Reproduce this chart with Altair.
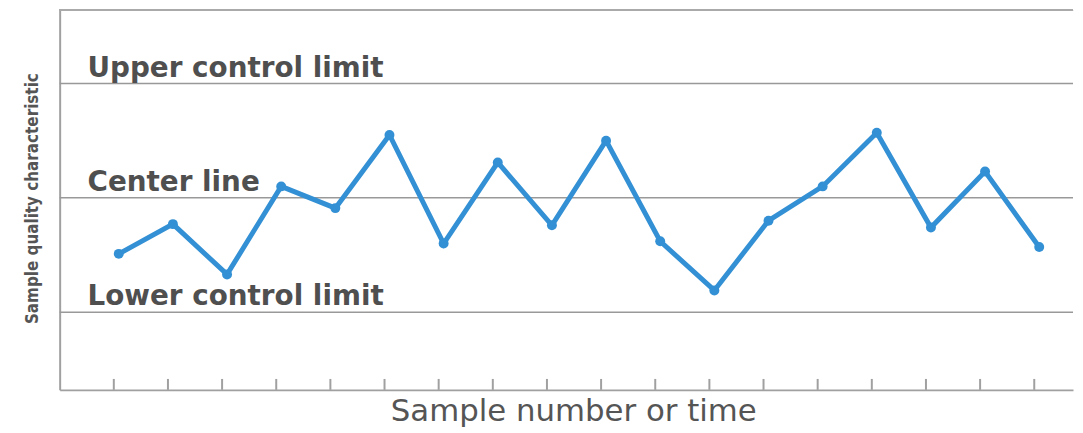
import altair as alt
import pandas as pd

# Sample index and measured quality characteristic (center line = 0, control limits = +/-1)
sample_number = list(range(1, 19))
sample_value = [-0.49, -0.23, -0.67, 0.10, -0.09, 0.55, -0.40, 0.31, -0.24,
                0.50, -0.38, -0.81, -0.20, 0.10, 0.57, -0.26, 0.23, -0.43]

limit_names = ["Upper control limit", "Center line", "Lower control limit"]
limit_values = [1.0, 0.0, -1.0]

tick_positions = list(range(1, 19))

Y_MIN, Y_MAX = -1.68, 1.64
X_MIN, X_MAX = 0, 18.716

W, H = 1020, 382
BLUE = "#3390d4"
GRAY = "#a0a0a0"

samples = pd.DataFrame({"n": sample_number, "v": sample_value})
limits = pd.DataFrame({"name": limit_names, "v": limit_values})
ticks = pd.DataFrame({"n": tick_positions})

xs = alt.Scale(domain=[X_MIN, X_MAX], nice=False, zero=False)
ys = alt.Scale(domain=[Y_MIN, Y_MAX], nice=False, zero=False)

x_axis = alt.Axis(
    title="Sample number or time", labels=False, ticks=False, grid=False,
    domain=True, domainColor=GRAY, domainWidth=2,
    titleFont="DejaVu Sans", titleFontSize=31, titleFontWeight="normal",
    titleColor="#555555", titleX=517, titleY=31, titleAlign="center",
    titleBaseline="alphabetic",
)
y_axis = alt.Axis(
    title="Sample quality characteristic", labels=False, ticks=False, grid=False,
    domain=True, domainColor=GRAY, domainWidth=2,
    titleFont="DejaVu Sans Condensed, Liberation Sans",
    titleFontSize=17, titleFontWeight="bold", titleColor="#555555",
    titleX=-22, titleY=189, titleAlign="center", titleBaseline="alphabetic",
    titleAngle=270,
)

top_rule = alt.Chart(samples).mark_rule(color="#aaaaaa", strokeWidth=1.5).encode(
    y=alt.datum(Y_MAX, scale=ys)
)

limit_rules = alt.Chart(limits).mark_rule(color="#999999", strokeWidth=1.5).encode(
    y=alt.Y("v:Q", scale=ys, axis=y_axis)
)

limit_text = alt.Chart(limits).mark_text(
    align="left", baseline="alphabetic", dy=-7,
    font="DejaVu Sans", fontSize=28, fontWeight="bold", color="#4f4f4f"
).encode(
    x=alt.value(28),
    y=alt.Y("v:Q", scale=ys),
    text="name:N",
)

tick_rules = alt.Chart(ticks).mark_rule(color=GRAY, strokeWidth=2).encode(
    x=alt.X("n:Q", scale=xs, axis=x_axis),
    y=alt.value(H - 11),
    y2=alt.value(H),
)

line = alt.Chart(samples).mark_line(color=BLUE, strokeWidth=5, xOffset=5).encode(
    x=alt.X("n:Q", scale=xs),
    y=alt.Y("v:Q", scale=ys),
)
points = alt.Chart(samples).mark_circle(color=BLUE, size=100, opacity=1, xOffset=5).encode(
    x=alt.X("n:Q", scale=xs),
    y=alt.Y("v:Q", scale=ys),
)

chart = alt.layer(top_rule, limit_rules, tick_rules, limit_text, line, points).properties(
    width=W, height=H,
    autosize=alt.AutoSizeParams(type="none"),
    padding={"left": 52, "top": 1, "right": 2, "bottom": 38},
).configure_view(stroke=None)

chart.save("out.html", embed_options={"renderer": "svg", "actions": False})
